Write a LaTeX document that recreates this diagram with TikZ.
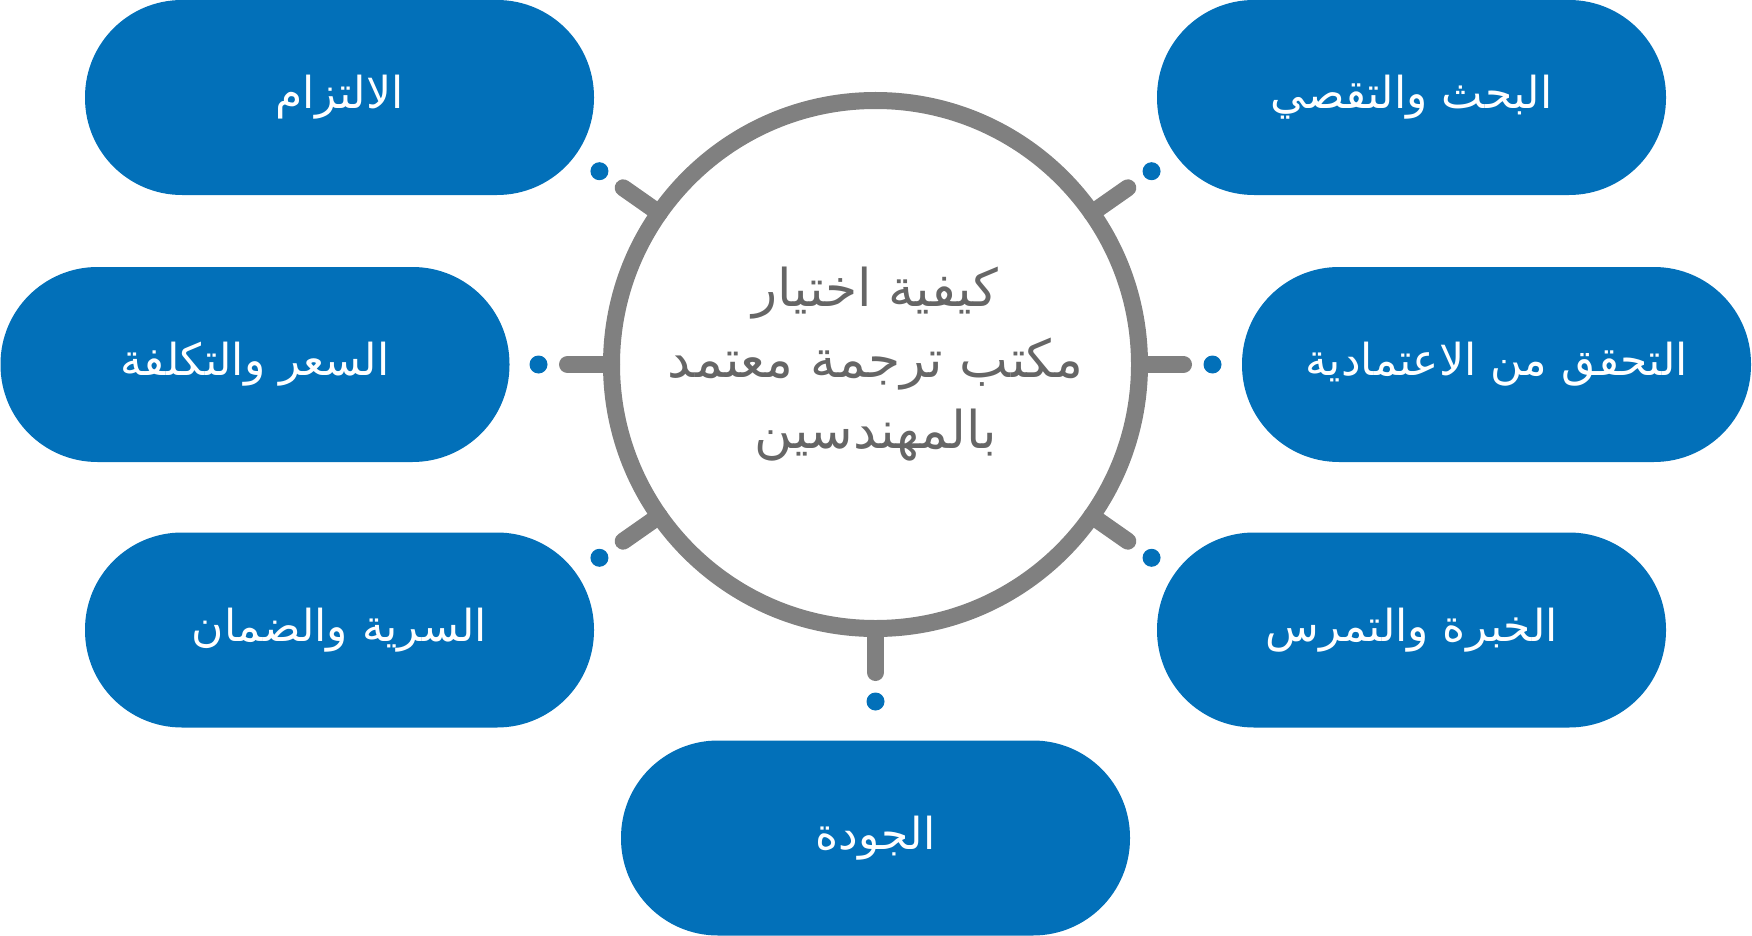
\documentclass[tikz,border=0pt]{standalone}
\usepackage{fontspec}
\newfontfamily\arabicfont[Script=Arabic]{DejaVu Sans}
\TeXXeTstate=1
\definecolor{pillblue}{HTML}{0270B9}
\definecolor{ringgray}{HTML}{808080}
\definecolor{titlegray}{HTML}{666666}
\begin{document}
\begin{tikzpicture}[x=1pt,y=-1pt,
    pill/.style={fill=pillblue,rounded corners=97pt,minimum width=509pt,minimum height=195pt,
      text=white,font=\fontsize{44}{50}\arabicfont},
    spoke/.style={draw=ringgray,line width=17pt,line cap=round},
    dotmark/.style={circle,fill=pillblue,minimum size=18pt,inner sep=0pt}]
    \useasboundingbox (0,0) rectangle (1752,936);
    % Central hub with the title
    \node[draw=ringgray,line width=17pt,circle,minimum size=528pt,outer sep=0pt,
      align=center,text=titlegray,font=\fontsize{52}{71}\arabicfont] (hub) at (875.5,364.5)
      {\beginR كيفية اختيار\endR\\\beginR مكتب ترجمة معتمد\endR\\\beginR بالمهندسين\endR};

    % Surrounding criteria
    \node[pill] (commit) at (339.5,97.5) {\beginR الالتزام\endR};
    \node[pill] (search) at (1411.5,97.5) {\beginR البحث والتقصي\endR};
    \node[pill] (price) at (255,364.5) {\beginR السعر والتكلفة\endR};
    \node[pill] (verify) at (1496.5,364.5) {\beginR التحقق من الاعتمادية\endR};
    \node[pill] (secret) at (339.5,630) {\beginR السرية والضمان\endR};
    \node[pill] (expert) at (1411.5,630) {\beginR الخبرة والتمرس\endR};
    \node[pill] (quality) at (875.5,838) {\beginR الجودة\endR};

    % Spoke ends
    \coordinate (s1) at ([shift={(35:308pt)}]hub.center);
    \coordinate (s2) at ([shift={(0:308pt)}]hub.center);
    \coordinate (s3) at ([shift={(-35:308pt)}]hub.center);
    \coordinate (s4) at ([shift={(-90:308pt)}]hub.center);
    \coordinate (s5) at ([shift={(-145:308pt)}]hub.center);
    \coordinate (s6) at ([shift={(180:308pt)}]hub.center);
    \coordinate (s7) at ([shift={(145:308pt)}]hub.center);

    % Spokes from the hub
    \draw[spoke] (hub.35) -- (s1);
    \draw[spoke] (hub.0) -- (s2);
    \draw[spoke] (hub.-35) -- (s3);
    \draw[spoke] (hub.-90) -- (s4);
    \draw[spoke] (hub.-145) -- (s5);
    \draw[spoke] (hub.180) -- (s6);
    \draw[spoke] (hub.145) -- (s7);

    % Dots at the end of each spoke
    \node[dotmark] (d1) at ([shift={(35:337pt)}]hub.center) {};
    \node[dotmark] (d2) at ([shift={(0:337pt)}]hub.center) {};
    \node[dotmark] (d3) at ([shift={(-35:337pt)}]hub.center) {};
    \node[dotmark] (d4) at ([shift={(-90:337pt)}]hub.center) {};
    \node[dotmark] (d5) at ([shift={(-145:337pt)}]hub.center) {};
    \node[dotmark] (d6) at ([shift={(180:337pt)}]hub.center) {};
    \node[dotmark] (d7) at ([shift={(145:337pt)}]hub.center) {};
  \end{tikzpicture}
\end{document}
